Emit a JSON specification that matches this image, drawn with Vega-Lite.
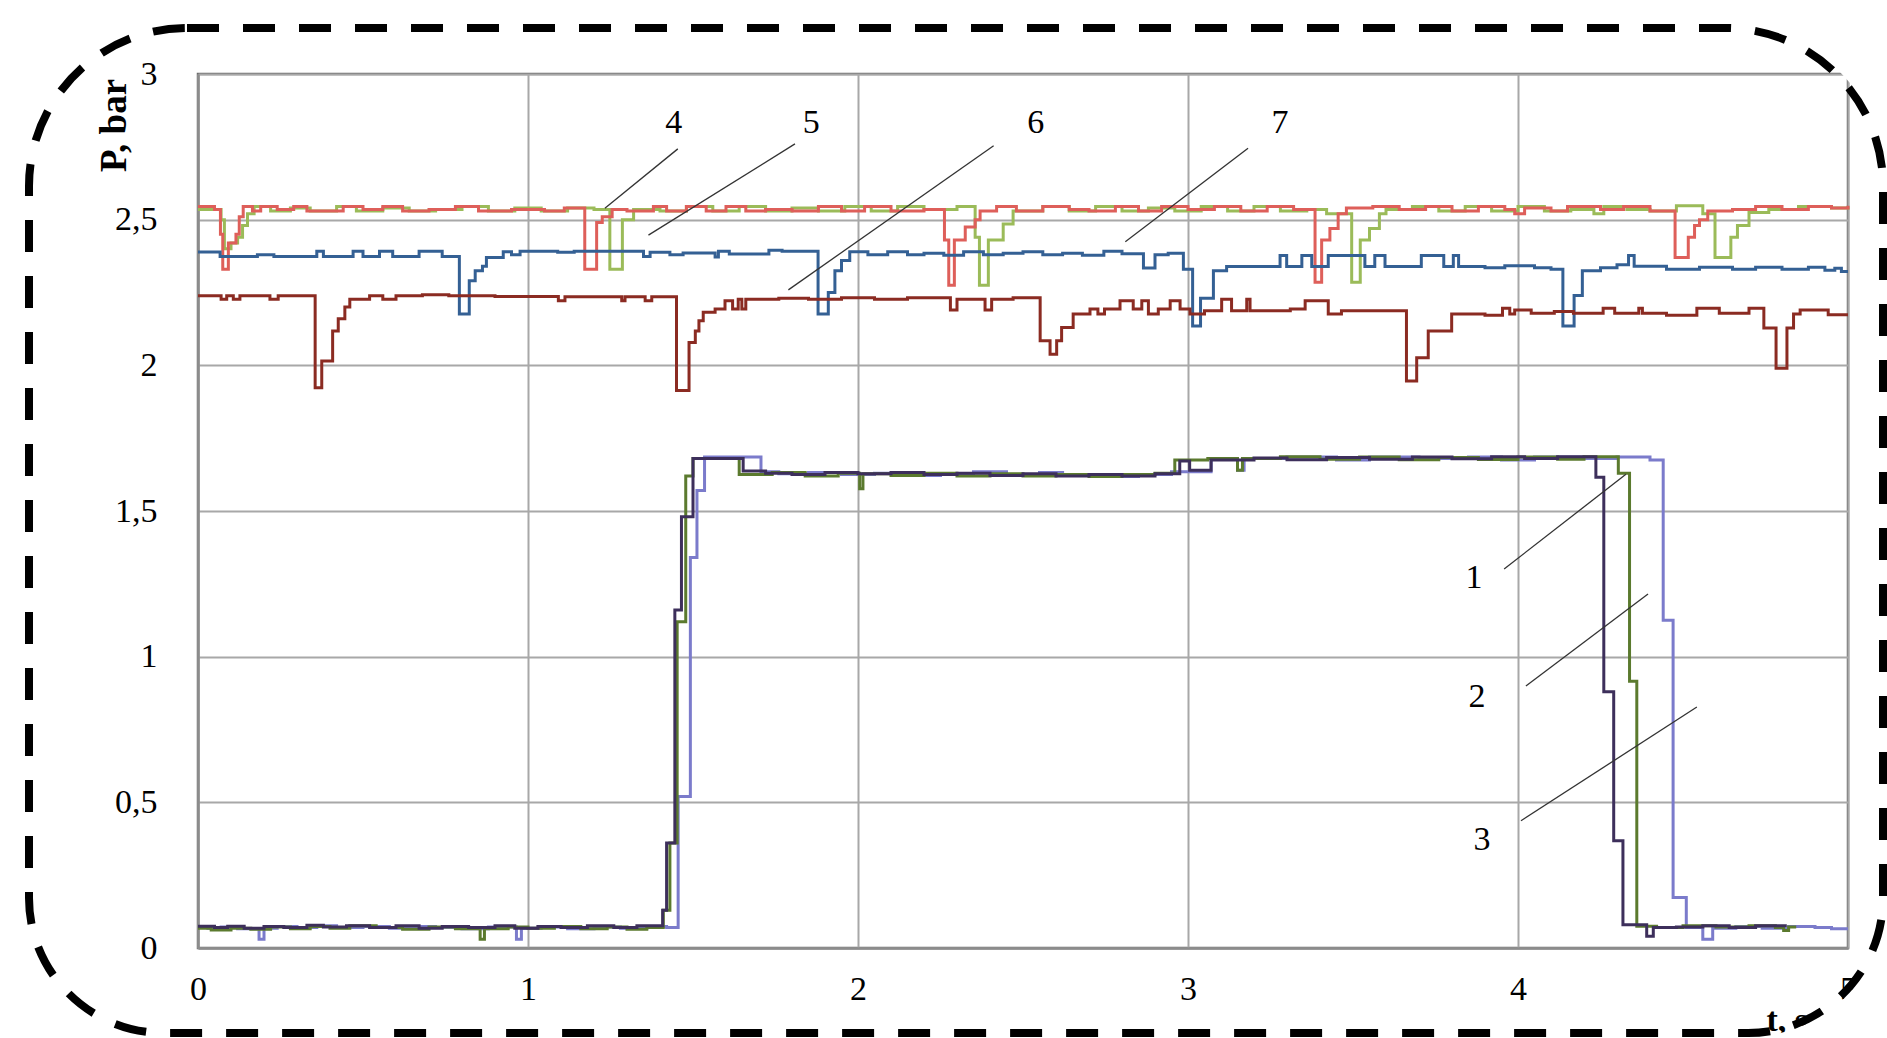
{
"$schema":"https://vega.github.io/schema/vega-lite/v6.json",
"width":1650,"height":874,
"autosize":{"type":"none"},
"padding":{"left":198,"top":74,"right":39,"bottom":90},
"background":"white",
"config":{
 "view":{"stroke":"#6b6b6b","strokeWidth":2.5},
 "axis":{"labelFont":"Liberation Serif","labelFontSize":34,"labelColor":"#000","titleFont":"Liberation Serif","titleColor":"#000","gridColor":"#a8a8a8","gridWidth":2,"domainColor":"#8c8c8c","domainWidth":2.5,"ticks":false,"tickSize":0,"labelFlush":false,"labelOverlap":false}
},
"layer":[
{
 "data":{"values":[
{"s":"3","t":0,"v":0.072},{"s":"3","t":0.03,"v":0.068},{"s":"3","t":0.07,"v":0.072},{"s":"3","t":0.12,"v":0.066},{"s":"3","t":0.185,"v":0.03},{"s":"3","t":0.2,"v":0.068},{"s":"3","t":0.24,"v":0.074},{"s":"3","t":0.3,"v":0.07},{"s":"3","t":0.36,"v":0.076},{"s":"3","t":0.42,"v":0.07},{"s":"3","t":0.5,"v":0.074},{"s":"3","t":0.58,"v":0.068},{"s":"3","t":0.64,"v":0.074},{"s":"3","t":0.72,"v":0.07},{"s":"3","t":0.8,"v":0.066},{"s":"3","t":0.88,"v":0.072},{"s":"3","t":0.965,"v":0.03},{"s":"3","t":0.98,"v":0.068},{"s":"3","t":1.04,"v":0.072},{"s":"3","t":1.12,"v":0.066},{"s":"3","t":1.2,"v":0.072},{"s":"3","t":1.28,"v":0.068},{"s":"3","t":1.36,"v":0.074},{"s":"3","t":1.42,"v":0.07},{"s":"3","t":1.455,"v":0.52},{"s":"3","t":1.492,"v":1.34},{"s":"3","t":1.512,"v":1.57},{"s":"3","t":1.535,"v":1.685},{"s":"3","t":1.706,"v":1.635},{"s":"3","t":1.76,"v":1.628},{"s":"3","t":1.85,"v":1.632},{"s":"3","t":1.95,"v":1.625},{"s":"3","t":2.05,"v":1.63},{"s":"3","t":2.15,"v":1.622},{"s":"3","t":2.25,"v":1.628},{"s":"3","t":2.35,"v":1.635},{"s":"3","t":2.45,"v":1.625},{"s":"3","t":2.55,"v":1.632},{"s":"3","t":2.62,"v":1.622},{"s":"3","t":2.75,"v":1.618},{"s":"3","t":2.85,"v":1.625},{"s":"3","t":2.95,"v":1.635},{"s":"3","t":3.07,"v":1.68},{"s":"3","t":3.15,"v":1.64},{"s":"3","t":3.17,"v":1.68},{"s":"3","t":3.3,"v":1.685},{"s":"3","t":3.45,"v":1.675},{"s":"3","t":3.55,"v":1.685},{"s":"3","t":3.7,"v":1.68},{"s":"3","t":3.85,"v":1.685},{"s":"3","t":3.95,"v":1.675},{"s":"3","t":4.05,"v":1.685},{"s":"3","t":4.2,"v":1.68},{"s":"3","t":4.3,"v":1.685},{"s":"3","t":4.4,"v":1.675},{"s":"3","t":4.44,"v":1.125},{"s":"3","t":4.47,"v":0.173},{"s":"3","t":4.51,"v":0.07},{"s":"3","t":4.56,"v":0.03},{"s":"3","t":4.59,"v":0.068},{"s":"3","t":4.66,"v":0.074},{"s":"3","t":4.74,"v":0.068},{"s":"3","t":4.82,"v":0.074},{"s":"3","t":4.9,"v":0.07},{"s":"3","t":4.95,"v":0.066},{"s":"3","t":5,"v":0.066},
{"s":"2","t":0,"v":0.068},{"s":"2","t":0.04,"v":0.062},{"s":"2","t":0.1,"v":0.068},{"s":"2","t":0.16,"v":0.064},{"s":"2","t":0.22,"v":0.072},{"s":"2","t":0.28,"v":0.066},{"s":"2","t":0.34,"v":0.074},{"s":"2","t":0.4,"v":0.068},{"s":"2","t":0.46,"v":0.076},{"s":"2","t":0.54,"v":0.07},{"s":"2","t":0.62,"v":0.064},{"s":"2","t":0.7,"v":0.072},{"s":"2","t":0.78,"v":0.066},{"s":"2","t":0.855,"v":0.03},{"s":"2","t":0.868,"v":0.066},{"s":"2","t":0.94,"v":0.072},{"s":"2","t":1.0,"v":0.068},{"s":"2","t":1.08,"v":0.074},{"s":"2","t":1.16,"v":0.066},{"s":"2","t":1.24,"v":0.072},{"s":"2","t":1.3,"v":0.064},{"s":"2","t":1.36,"v":0.07},{"s":"2","t":1.41,"v":0.13},{"s":"2","t":1.43,"v":0.36},{"s":"2","t":1.452,"v":1.12},{"s":"2","t":1.478,"v":1.62},{"s":"2","t":1.5,"v":1.68},{"s":"2","t":1.64,"v":1.625},{"s":"2","t":1.74,"v":1.632},{"s":"2","t":1.84,"v":1.62},{"s":"2","t":1.94,"v":1.63},{"s":"2","t":2.005,"v":1.576},{"s":"2","t":2.015,"v":1.628},{"s":"2","t":2.1,"v":1.622},{"s":"2","t":2.2,"v":1.63},{"s":"2","t":2.3,"v":1.62},{"s":"2","t":2.4,"v":1.628},{"s":"2","t":2.5,"v":1.62},{"s":"2","t":2.6,"v":1.625},{"s":"2","t":2.7,"v":1.618},{"s":"2","t":2.8,"v":1.625},{"s":"2","t":2.9,"v":1.63},{"s":"2","t":2.96,"v":1.675},{"s":"2","t":3.06,"v":1.68},{"s":"2","t":3.15,"v":1.64},{"s":"2","t":3.165,"v":1.68},{"s":"2","t":3.28,"v":1.686},{"s":"2","t":3.4,"v":1.678},{"s":"2","t":3.52,"v":1.685},{"s":"2","t":3.64,"v":1.676},{"s":"2","t":3.76,"v":1.684},{"s":"2","t":3.88,"v":1.677},{"s":"2","t":4.0,"v":1.685},{"s":"2","t":4.12,"v":1.678},{"s":"2","t":4.2,"v":1.686},{"s":"2","t":4.304,"v":1.63},{"s":"2","t":4.338,"v":0.916},{"s":"2","t":4.36,"v":0.075},{"s":"2","t":4.42,"v":0.07},{"s":"2","t":4.5,"v":0.076},{"s":"2","t":4.6,"v":0.072},{"s":"2","t":4.7,"v":0.076},{"s":"2","t":4.78,"v":0.07},{"s":"2","t":4.805,"v":0.06},{"s":"2","t":4.82,"v":0.072},{"s":"2","t":4.843,"v":0.072},
{"s":"1","t":0,"v":0.075},{"s":"1","t":0.05,"v":0.07},{"s":"1","t":0.09,"v":0.075},{"s":"1","t":0.14,"v":0.068},{"s":"1","t":0.2,"v":0.074},{"s":"1","t":0.26,"v":0.07},{"s":"1","t":0.33,"v":0.078},{"s":"1","t":0.38,"v":0.072},{"s":"1","t":0.45,"v":0.076},{"s":"1","t":0.52,"v":0.07},{"s":"1","t":0.6,"v":0.076},{"s":"1","t":0.67,"v":0.068},{"s":"1","t":0.74,"v":0.074},{"s":"1","t":0.82,"v":0.07},{"s":"1","t":0.9,"v":0.076},{"s":"1","t":0.96,"v":0.068},{"s":"1","t":1.03,"v":0.074},{"s":"1","t":1.1,"v":0.07},{"s":"1","t":1.18,"v":0.076},{"s":"1","t":1.26,"v":0.07},{"s":"1","t":1.33,"v":0.076},{"s":"1","t":1.408,"v":0.13},{"s":"1","t":1.42,"v":0.36},{"s":"1","t":1.445,"v":1.16},{"s":"1","t":1.465,"v":1.48},{"s":"1","t":1.5,"v":1.68},{"s":"1","t":1.652,"v":1.637},{"s":"1","t":1.72,"v":1.63},{"s":"1","t":1.8,"v":1.625},{"s":"1","t":1.9,"v":1.632},{"s":"1","t":2.0,"v":1.628},{"s":"1","t":2.1,"v":1.632},{"s":"1","t":2.2,"v":1.625},{"s":"1","t":2.3,"v":1.63},{"s":"1","t":2.4,"v":1.622},{"s":"1","t":2.5,"v":1.628},{"s":"1","t":2.6,"v":1.62},{"s":"1","t":2.7,"v":1.625},{"s":"1","t":2.8,"v":1.62},{"s":"1","t":2.9,"v":1.628},{"s":"1","t":2.975,"v":1.672},{"s":"1","t":3.005,"v":1.64},{"s":"1","t":3.07,"v":1.675},{"s":"1","t":3.2,"v":1.682},{"s":"1","t":3.3,"v":1.676},{"s":"1","t":3.42,"v":1.684},{"s":"1","t":3.55,"v":1.678},{"s":"1","t":3.68,"v":1.685},{"s":"1","t":3.8,"v":1.679},{"s":"1","t":3.92,"v":1.686},{"s":"1","t":4.02,"v":1.68},{"s":"1","t":4.12,"v":1.686},{"s":"1","t":4.236,"v":1.616},{"s":"1","t":4.26,"v":0.88},{"s":"1","t":4.29,"v":0.368},{"s":"1","t":4.318,"v":0.08},{"s":"1","t":4.39,"v":0.04},{"s":"1","t":4.41,"v":0.07},{"s":"1","t":4.48,"v":0.072},{"s":"1","t":4.56,"v":0.076},{"s":"1","t":4.64,"v":0.07},{"s":"1","t":4.72,"v":0.076},{"s":"1","t":4.81,"v":0.072},
{"s":"4","t":0,"v":2.535},{"s":"4","t":0.07,"v":2.5},{"s":"4","t":0.08,"v":2.4},{"s":"4","t":0.1,"v":2.42},{"s":"4","t":0.12,"v":2.44},{"s":"4","t":0.135,"v":2.48},{"s":"4","t":0.15,"v":2.52},{"s":"4","t":0.17,"v":2.545},{"s":"4","t":0.22,"v":2.53},{"s":"4","t":0.28,"v":2.54},{"s":"4","t":0.34,"v":2.53},{"s":"4","t":0.42,"v":2.545},{"s":"4","t":0.48,"v":2.53},{"s":"4","t":0.56,"v":2.54},{"s":"4","t":0.64,"v":2.53},{"s":"4","t":0.72,"v":2.535},{"s":"4","t":0.8,"v":2.545},{"s":"4","t":0.88,"v":2.53},{"s":"4","t":0.96,"v":2.54},{"s":"4","t":1.04,"v":2.53},{"s":"4","t":1.12,"v":2.54},{"s":"4","t":1.2,"v":2.535},{"s":"4","t":1.248,"v":2.33},{"s":"4","t":1.286,"v":2.5},{"s":"4","t":1.32,"v":2.535},{"s":"4","t":1.4,"v":2.53},{"s":"4","t":1.48,"v":2.545},{"s":"4","t":1.56,"v":2.53},{"s":"4","t":1.64,"v":2.545},{"s":"4","t":1.72,"v":2.53},{"s":"4","t":1.8,"v":2.54},{"s":"4","t":1.88,"v":2.53},{"s":"4","t":1.96,"v":2.545},{"s":"4","t":2.04,"v":2.53},{"s":"4","t":2.12,"v":2.545},{"s":"4","t":2.2,"v":2.535},{"s":"4","t":2.3,"v":2.545},{"s":"4","t":2.355,"v":2.44},{"s":"4","t":2.368,"v":2.275},{"s":"4","t":2.395,"v":2.43},{"s":"4","t":2.44,"v":2.485},{"s":"4","t":2.47,"v":2.53},{"s":"4","t":2.56,"v":2.545},{"s":"4","t":2.64,"v":2.53},{"s":"4","t":2.72,"v":2.545},{"s":"4","t":2.8,"v":2.53},{"s":"4","t":2.88,"v":2.54},{"s":"4","t":2.96,"v":2.53},{"s":"4","t":3.04,"v":2.545},{"s":"4","t":3.12,"v":2.53},{"s":"4","t":3.2,"v":2.545},{"s":"4","t":3.28,"v":2.53},{"s":"4","t":3.36,"v":2.535},{"s":"4","t":3.42,"v":2.52},{"s":"4","t":3.496,"v":2.285},{"s":"4","t":3.522,"v":2.43},{"s":"4","t":3.55,"v":2.47},{"s":"4","t":3.58,"v":2.52},{"s":"4","t":3.6,"v":2.535},{"s":"4","t":3.68,"v":2.545},{"s":"4","t":3.76,"v":2.53},{"s":"4","t":3.84,"v":2.545},{"s":"4","t":3.92,"v":2.53},{"s":"4","t":4.0,"v":2.545},{"s":"4","t":4.08,"v":2.53},{"s":"4","t":4.16,"v":2.535},{"s":"4","t":4.23,"v":2.52},{"s":"4","t":4.26,"v":2.545},{"s":"4","t":4.33,"v":2.535},{"s":"4","t":4.4,"v":2.53},{"s":"4","t":4.48,"v":2.548},{"s":"4","t":4.56,"v":2.52},{"s":"4","t":4.597,"v":2.37},{"s":"4","t":4.645,"v":2.44},{"s":"4","t":4.665,"v":2.48},{"s":"4","t":4.7,"v":2.525},{"s":"4","t":4.76,"v":2.535},{"s":"4","t":4.85,"v":2.545},{"s":"4","t":4.95,"v":2.54},{"s":"4","t":5,"v":2.545},
{"s":"5","t":0,"v":2.545},{"s":"5","t":0.05,"v":2.535},{"s":"5","t":0.068,"v":2.45},{"s":"5","t":0.075,"v":2.33},{"s":"5","t":0.092,"v":2.42},{"s":"5","t":0.115,"v":2.45},{"s":"5","t":0.125,"v":2.51},{"s":"5","t":0.137,"v":2.545},{"s":"5","t":0.165,"v":2.53},{"s":"5","t":0.19,"v":2.545},{"s":"5","t":0.24,"v":2.535},{"s":"5","t":0.29,"v":2.545},{"s":"5","t":0.33,"v":2.53},{"s":"5","t":0.44,"v":2.545},{"s":"5","t":0.5,"v":2.535},{"s":"5","t":0.56,"v":2.545},{"s":"5","t":0.62,"v":2.53},{"s":"5","t":0.7,"v":2.535},{"s":"5","t":0.78,"v":2.545},{"s":"5","t":0.85,"v":2.53},{"s":"5","t":0.95,"v":2.535},{"s":"5","t":1.05,"v":2.53},{"s":"5","t":1.11,"v":2.54},{"s":"5","t":1.172,"v":2.33},{"s":"5","t":1.208,"v":2.49},{"s":"5","t":1.225,"v":2.51},{"s":"5","t":1.255,"v":2.535},{"s":"5","t":1.3,"v":2.53},{"s":"5","t":1.38,"v":2.545},{"s":"5","t":1.42,"v":2.53},{"s":"5","t":1.48,"v":2.545},{"s":"5","t":1.54,"v":2.53},{"s":"5","t":1.6,"v":2.545},{"s":"5","t":1.66,"v":2.53},{"s":"5","t":1.72,"v":2.535},{"s":"5","t":1.8,"v":2.53},{"s":"5","t":1.88,"v":2.545},{"s":"5","t":1.95,"v":2.53},{"s":"5","t":2.02,"v":2.545},{"s":"5","t":2.1,"v":2.53},{"s":"5","t":2.2,"v":2.535},{"s":"5","t":2.262,"v":2.43},{"s":"5","t":2.275,"v":2.275},{"s":"5","t":2.292,"v":2.43},{"s":"5","t":2.325,"v":2.475},{"s":"5","t":2.355,"v":2.5},{"s":"5","t":2.37,"v":2.53},{"s":"5","t":2.42,"v":2.545},{"s":"5","t":2.48,"v":2.53},{"s":"5","t":2.56,"v":2.545},{"s":"5","t":2.64,"v":2.535},{"s":"5","t":2.7,"v":2.53},{"s":"5","t":2.78,"v":2.545},{"s":"5","t":2.85,"v":2.53},{"s":"5","t":2.92,"v":2.545},{"s":"5","t":3.0,"v":2.535},{"s":"5","t":3.08,"v":2.545},{"s":"5","t":3.16,"v":2.53},{"s":"5","t":3.24,"v":2.545},{"s":"5","t":3.32,"v":2.535},{"s":"5","t":3.385,"v":2.285},{"s":"5","t":3.405,"v":2.43},{"s":"5","t":3.43,"v":2.47},{"s":"5","t":3.455,"v":2.52},{"s":"5","t":3.48,"v":2.54},{"s":"5","t":3.56,"v":2.545},{"s":"5","t":3.64,"v":2.535},{"s":"5","t":3.72,"v":2.545},{"s":"5","t":3.8,"v":2.53},{"s":"5","t":3.88,"v":2.545},{"s":"5","t":3.96,"v":2.535},{"s":"5","t":3.99,"v":2.52},{"s":"5","t":4.02,"v":2.54},{"s":"5","t":4.1,"v":2.53},{"s":"5","t":4.15,"v":2.545},{"s":"5","t":4.25,"v":2.535},{"s":"5","t":4.32,"v":2.545},{"s":"5","t":4.4,"v":2.53},{"s":"5","t":4.476,"v":2.37},{"s":"5","t":4.516,"v":2.44},{"s":"5","t":4.535,"v":2.48},{"s":"5","t":4.55,"v":2.5},{"s":"5","t":4.575,"v":2.53},{"s":"5","t":4.65,"v":2.535},{"s":"5","t":4.72,"v":2.545},{"s":"5","t":4.8,"v":2.535},{"s":"5","t":4.88,"v":2.545},{"s":"5","t":4.95,"v":2.54},{"s":"5","t":5,"v":2.548},
{"s":"6","t":0,"v":2.389},{"s":"6","t":0.067,"v":2.374},{"s":"6","t":0.18,"v":2.38},{"s":"6","t":0.23,"v":2.374},{"s":"6","t":0.36,"v":2.392},{"s":"6","t":0.38,"v":2.374},{"s":"6","t":0.47,"v":2.392},{"s":"6","t":0.5,"v":2.374},{"s":"6","t":0.55,"v":2.392},{"s":"6","t":0.59,"v":2.374},{"s":"6","t":0.67,"v":2.392},{"s":"6","t":0.74,"v":2.374},{"s":"6","t":0.792,"v":2.176},{"s":"6","t":0.822,"v":2.29},{"s":"6","t":0.84,"v":2.325},{"s":"6","t":0.862,"v":2.34},{"s":"6","t":0.874,"v":2.37},{"s":"6","t":0.925,"v":2.39},{"s":"6","t":0.95,"v":2.38},{"s":"6","t":0.976,"v":2.392},{"s":"6","t":1.09,"v":2.388},{"s":"6","t":1.14,"v":2.392},{"s":"6","t":1.35,"v":2.374},{"s":"6","t":1.37,"v":2.388},{"s":"6","t":1.43,"v":2.38},{"s":"6","t":1.47,"v":2.386},{"s":"6","t":1.567,"v":2.372},{"s":"6","t":1.577,"v":2.392},{"s":"6","t":1.61,"v":2.382},{"s":"6","t":1.73,"v":2.395},{"s":"6","t":1.77,"v":2.392},{"s":"6","t":1.879,"v":2.176},{"s":"6","t":1.91,"v":2.25},{"s":"6","t":1.93,"v":2.325},{"s":"6","t":1.95,"v":2.36},{"s":"6","t":1.975,"v":2.39},{"s":"6","t":2.03,"v":2.38},{"s":"6","t":2.09,"v":2.39},{"s":"6","t":2.15,"v":2.38},{"s":"6","t":2.2,"v":2.385},{"s":"6","t":2.26,"v":2.378},{"s":"6","t":2.32,"v":2.39},{"s":"6","t":2.38,"v":2.38},{"s":"6","t":2.44,"v":2.385},{"s":"6","t":2.5,"v":2.39},{"s":"6","t":2.56,"v":2.38},{"s":"6","t":2.62,"v":2.385},{"s":"6","t":2.68,"v":2.378},{"s":"6","t":2.745,"v":2.392},{"s":"6","t":2.8,"v":2.383},{"s":"6","t":2.865,"v":2.334},{"s":"6","t":2.9,"v":2.38},{"s":"6","t":2.94,"v":2.385},{"s":"6","t":2.986,"v":2.33},{"s":"6","t":3.014,"v":2.135},{"s":"6","t":3.038,"v":2.23},{"s":"6","t":3.077,"v":2.325},{"s":"6","t":3.117,"v":2.339},{"s":"6","t":3.279,"v":2.377},{"s":"6","t":3.299,"v":2.339},{"s":"6","t":3.345,"v":2.377},{"s":"6","t":3.375,"v":2.339},{"s":"6","t":3.425,"v":2.377},{"s":"6","t":3.536,"v":2.339},{"s":"6","t":3.566,"v":2.377},{"s":"6","t":3.597,"v":2.339},{"s":"6","t":3.707,"v":2.377},{"s":"6","t":3.775,"v":2.339},{"s":"6","t":3.804,"v":2.377},{"s":"6","t":3.82,"v":2.339},{"s":"6","t":3.9,"v":2.335},{"s":"6","t":3.96,"v":2.342},{"s":"6","t":4.05,"v":2.335},{"s":"6","t":4.1,"v":2.33},{"s":"6","t":4.136,"v":2.135},{"s":"6","t":4.17,"v":2.24},{"s":"6","t":4.195,"v":2.325},{"s":"6","t":4.25,"v":2.335},{"s":"6","t":4.3,"v":2.345},{"s":"6","t":4.335,"v":2.377},{"s":"6","t":4.352,"v":2.34},{"s":"6","t":4.45,"v":2.33},{"s":"6","t":4.55,"v":2.337},{"s":"6","t":4.65,"v":2.33},{"s":"6","t":4.72,"v":2.337},{"s":"6","t":4.8,"v":2.33},{"s":"6","t":4.88,"v":2.337},{"s":"6","t":4.93,"v":2.326},{"s":"6","t":4.96,"v":2.333},{"s":"6","t":4.98,"v":2.322},{"s":"6","t":5,"v":2.322},
{"s":"7","t":0,"v":2.239},{"s":"7","t":0.07,"v":2.227},{"s":"7","t":0.087,"v":2.239},{"s":"7","t":0.107,"v":2.227},{"s":"7","t":0.127,"v":2.239},{"s":"7","t":0.218,"v":2.227},{"s":"7","t":0.243,"v":2.239},{"s":"7","t":0.355,"v":1.923},{"s":"7","t":0.375,"v":2.015},{"s":"7","t":0.408,"v":2.118},{"s":"7","t":0.425,"v":2.16},{"s":"7","t":0.445,"v":2.2},{"s":"7","t":0.46,"v":2.227},{"s":"7","t":0.52,"v":2.239},{"s":"7","t":0.56,"v":2.227},{"s":"7","t":0.6,"v":2.239},{"s":"7","t":0.68,"v":2.242},{"s":"7","t":0.76,"v":2.239},{"s":"7","t":0.9,"v":2.236},{"s":"7","t":1.092,"v":2.222},{"s":"7","t":1.112,"v":2.235},{"s":"7","t":1.284,"v":2.222},{"s":"7","t":1.294,"v":2.235},{"s":"7","t":1.355,"v":2.222},{"s":"7","t":1.375,"v":2.235},{"s":"7","t":1.45,"v":1.914},{"s":"7","t":1.488,"v":2.078},{"s":"7","t":1.507,"v":2.118},{"s":"7","t":1.518,"v":2.153},{"s":"7","t":1.531,"v":2.182},{"s":"7","t":1.567,"v":2.193},{"s":"7","t":1.597,"v":2.222},{"s":"7","t":1.62,"v":2.193},{"s":"7","t":1.637,"v":2.227},{"s":"7","t":1.648,"v":2.193},{"s":"7","t":1.66,"v":2.227},{"s":"7","t":1.76,"v":2.23},{"s":"7","t":1.85,"v":2.227},{"s":"7","t":1.95,"v":2.232},{"s":"7","t":2.05,"v":2.227},{"s":"7","t":2.15,"v":2.232},{"s":"7","t":2.28,"v":2.19},{"s":"7","t":2.3,"v":2.227},{"s":"7","t":2.385,"v":2.19},{"s":"7","t":2.405,"v":2.227},{"s":"7","t":2.47,"v":2.232},{"s":"7","t":2.552,"v":2.084},{"s":"7","t":2.582,"v":2.038},{"s":"7","t":2.602,"v":2.084},{"s":"7","t":2.617,"v":2.13},{"s":"7","t":2.652,"v":2.176},{"s":"7","t":2.703,"v":2.193},{"s":"7","t":2.727,"v":2.176},{"s":"7","t":2.747,"v":2.193},{"s":"7","t":2.794,"v":2.222},{"s":"7","t":2.834,"v":2.193},{"s":"7","t":2.86,"v":2.222},{"s":"7","t":2.88,"v":2.176},{"s":"7","t":2.91,"v":2.193},{"s":"7","t":2.946,"v":2.222},{"s":"7","t":2.976,"v":2.193},{"s":"7","t":3.006,"v":2.176},{"s":"7","t":3.05,"v":2.187},{"s":"7","t":3.102,"v":2.227},{"s":"7","t":3.132,"v":2.187},{"s":"7","t":3.178,"v":2.227},{"s":"7","t":3.188,"v":2.187},{"s":"7","t":3.31,"v":2.193},{"s":"7","t":3.355,"v":2.222},{"s":"7","t":3.425,"v":2.176},{"s":"7","t":3.465,"v":2.187},{"s":"7","t":3.662,"v":1.946},{"s":"7","t":3.693,"v":2.026},{"s":"7","t":3.728,"v":2.118},{"s":"7","t":3.799,"v":2.176},{"s":"7","t":3.9,"v":2.172},{"s":"7","t":3.953,"v":2.196},{"s":"7","t":3.975,"v":2.176},{"s":"7","t":3.99,"v":2.19},{"s":"7","t":4.04,"v":2.179},{"s":"7","t":4.11,"v":2.185},{"s":"7","t":4.168,"v":2.179},{"s":"7","t":4.258,"v":2.196},{"s":"7","t":4.293,"v":2.179},{"s":"7","t":4.366,"v":2.196},{"s":"7","t":4.377,"v":2.179},{"s":"7","t":4.45,"v":2.172},{"s":"7","t":4.542,"v":2.196},{"s":"7","t":4.61,"v":2.179},{"s":"7","t":4.7,"v":2.196},{"s":"7","t":4.745,"v":2.128},{"s":"7","t":4.782,"v":1.99},{"s":"7","t":4.815,"v":2.128},{"s":"7","t":4.835,"v":2.176},{"s":"7","t":4.855,"v":2.19},{"s":"7","t":4.94,"v":2.174},{"s":"7","t":5,"v":2.174}
 ]},
 "encoding":{
  "x":{"field":"t","type":"quantitative","scale":{"domain":[0,5],"nice":false,"zero":false},
   "axis":{"values":[0,1,2,3,4,5],"format":"d","labelPadding":24,"grid":true,"title":"t, s","titleX":1568,"titleY":82,"titleAlign":"left","titleBaseline":"alphabetic","titleFontSize":34,"titleFontWeight":"bold"}},
  "y":{"field":"v","type":"quantitative","scale":{"domain":[0,3],"nice":false,"zero":false},
   "axis":{"values":[0,0.5,1,1.5,2,2.5,3],"labelExpr":"replace(format(datum.value,'.1~f'),'.',',')","labelPadding":41,"grid":true,"title":"P, bar","titleX":-84,"titleY":51,"titleAngle":-90,"titleAlign":"center","titleBaseline":"middle","titleFontSize":37,"titleFontWeight":"bold"}},
  "color":{"field":"s","type":"nominal","legend":null,"scale":{"domain":["1","2","3","4","5","6","7"],"range":["#3d2f5b","#5b7a2e","#7b7bcb","#9bbb59","#de5f5a","#346094","#8b2b22"]}}
 },
 "layer":[
  {"transform":[{"filter":"datum.s=='3'"}],"mark":{"type":"line","interpolate":"step-after","strokeWidth":3}},
  {"transform":[{"filter":"datum.s=='2'"}],"mark":{"type":"line","interpolate":"step-after","strokeWidth":3}},
  {"transform":[{"filter":"datum.s=='1'"}],"mark":{"type":"line","interpolate":"step-after","strokeWidth":3}},
  {"transform":[{"filter":"datum.s=='4'"}],"mark":{"type":"line","interpolate":"step-after","strokeWidth":3}},
  {"transform":[{"filter":"datum.s=='5'"}],"mark":{"type":"line","interpolate":"step-after","strokeWidth":3}},
  {"transform":[{"filter":"datum.s=='6'"}],"mark":{"type":"line","interpolate":"step-after","strokeWidth":3}},
  {"transform":[{"filter":"datum.s=='7'"}],"mark":{"type":"line","interpolate":"step-after","strokeWidth":3}}
 ]
},
{
 "data":{"values":[
  {"t1":1.454,"v1":2.743,"t2":1.233,"v2":2.539},
  {"t1":1.809,"v1":2.76,"t2":1.365,"v2":2.447},
  {"t1":2.411,"v1":2.754,"t2":1.789,"v2":2.259},
  {"t1":3.182,"v1":2.745,"t2":2.81,"v2":2.424},
  {"t1":3.958,"v1":1.301,"t2":4.327,"v2":1.626},
  {"t1":4.024,"v1":0.899,"t2":4.394,"v2":1.215},
  {"t1":4.009,"v1":0.437,"t2":4.542,"v2":0.827}
 ]},
 "mark":{"type":"rule","color":"#333333","strokeWidth":1.3},
 "encoding":{"x":{"field":"t1","type":"quantitative"},"y":{"field":"v1","type":"quantitative"},"x2":{"field":"t2"},"y2":{"field":"v2"}}
},
{
 "data":{"values":[
  {"lab":"4","t":1.442,"v":2.832},{"lab":"5","t":1.858,"v":2.832},{"lab":"6","t":2.539,"v":2.832},{"lab":"7","t":3.279,"v":2.832},
  {"lab":"1","t":3.867,"v":1.27},{"lab":"2","t":3.876,"v":0.862},{"lab":"3","t":3.891,"v":0.371}
 ]},
 "mark":{"type":"text","font":"Liberation Serif","fontSize":34,"color":"#000","align":"center","baseline":"middle"},
 "encoding":{"x":{"field":"t","type":"quantitative"},"y":{"field":"v","type":"quantitative"},"text":{"field":"lab"}}
},
{
 "data":{"values":[{"x1":-0.7515,"x2":5.3455,"y1":3.4291,"y2":-0.5629}]},
 "mark":{"type":"rect","filled":false,"stroke":"#ffffff","strokeWidth":150,"cornerRadiusTopLeft":237,"cornerRadiusTopRight":237,"cornerRadiusBottomLeft":214,"cornerRadiusBottomRight":214,"clip":false},
 "encoding":{"x":{"field":"x1","type":"quantitative"},"x2":{"field":"x2"},"y":{"field":"y1","type":"quantitative"},"y2":{"field":"y2"}}
},
{
 "data":{"values":[{"x1":-0.5121,"x2":5.1061,"y1":3.1579,"y2":-0.2918}]},
 "mark":{"type":"rect","filled":false,"stroke":"#000000","strokeWidth":8,"strokeDash":[32,24],"cornerRadiusTopLeft":158,"cornerRadiusTopRight":158,"cornerRadiusBottomLeft":135,"cornerRadiusBottomRight":135,"clip":false},
 "encoding":{"x":{"field":"x1","type":"quantitative"},"x2":{"field":"x2"},"y":{"field":"y1","type":"quantitative"},"y2":{"field":"y2"}}
}
]
}
